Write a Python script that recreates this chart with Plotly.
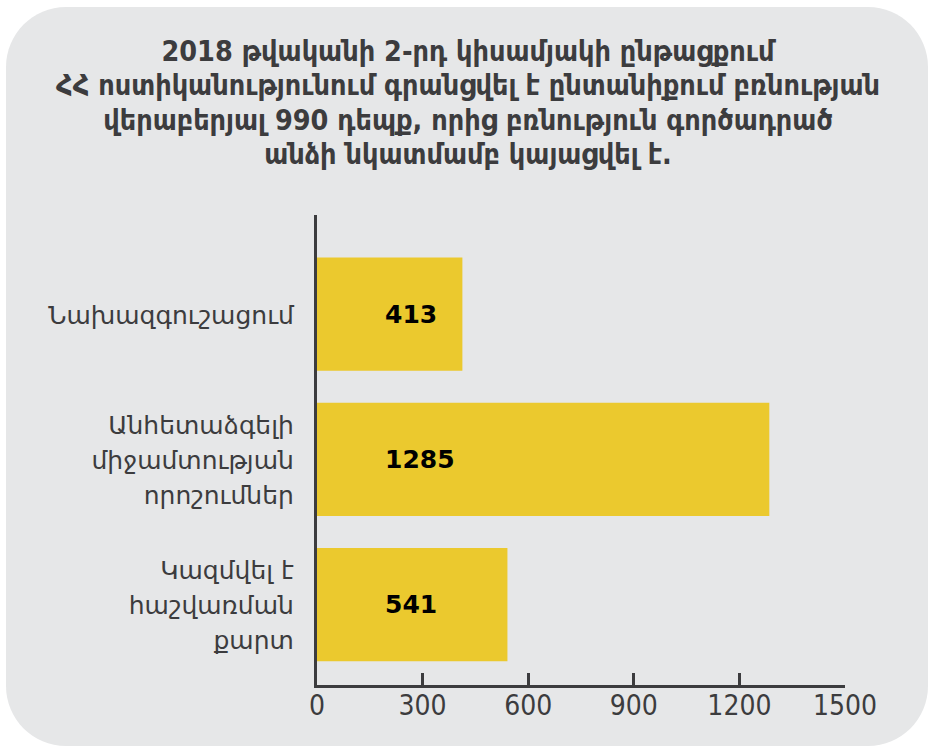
import plotly.graph_objects as go

categories = [
    "Նախազգուշացում",
    "Անհետաձգելի<br>միջամտության<br>որոշումներ",
    "Կազմվել է<br>հաշվառման<br>քարտ",
]
values = [413, 1285, 541]
tick_vals = [0, 300, 600, 900, 1200, 1500]
title_lines = [
    "2018 թվականի 2-րդ կիսամյակի ընթացքում",
    "ՀՀ ոստիկանությունում գրանցվել է ընտանիքում բռնության",
    "վերաբերյալ 990 դեպք, որից բռնություն գործադրած",
    "անձի նկատմամբ կայացվել է.",
]

W, H = 929, 746
L, R, T, B = 317, 84, 215, 61
pw, ph = W - L - R, H - T - B

def px(x):
    return (x - L) / pw

def py(y):
    return (H - B - y) / ph

BG = "#e6e7e8"
BAR = "#ebc92e"
DARK = "#3c3c3e"

def sized(text, size):
    return "<br>".join(f"<span style='font-size:{size}px'>{t}</span>" for t in text.split("<br>"))

fig = go.Figure()
fig.add_trace(go.Bar(
    y=categories, x=values, orientation="h",
    marker=dict(color=BAR, line=dict(width=0)),
    width=0.78, hoverinfo="skip",
))
# invisible trace so the tick-label overlay axis is drawn
fig.add_trace(go.Scatter(x=[0], y=[categories[0]], xaxis="x2", mode="none",
                         hoverinfo="skip", showlegend=False))

for c, v in zip(categories, values):
    fig.add_annotation(
        x=0, y=c, xref="x", yref="y", text=f"<b>{v}</b>", showarrow=False,
        xanchor="left", xshift=66,
        font=dict(family="DejaVu Sans", size=25, color="#000000"),
    )

# rounded background card
x0, y0, x1, y1, r = 6, 7, 928, 746, 60
k = 0.5523 * r
path = (
    f"M {px(x0+r)},{py(y0)} L {px(x1-r)},{py(y0)} "
    f"C {px(x1-r+k)},{py(y0)} {px(x1)},{py(y0+r-k)} {px(x1)},{py(y0+r)} "
    f"L {px(x1)},{py(y1-r)} "
    f"C {px(x1)},{py(y1-r+k)} {px(x1-r+k)},{py(y1)} {px(x1-r)},{py(y1)} "
    f"L {px(x0+r)},{py(y1)} "
    f"C {px(x0+r-k)},{py(y1)} {px(x0)},{py(y1-r+k)} {px(x0)},{py(y1-r)} "
    f"L {px(x0)},{py(y0+r)} "
    f"C {px(x0)},{py(y0+r-k)} {px(x0+r-k)},{py(y0)} {px(x0+r)},{py(y0)} Z"
)
fig.add_shape(type="path", path=path, xref="paper", yref="paper",
              fillcolor=BG, line=dict(width=0), layer="below")

fig.update_layout(
    width=W, height=H,
    margin=dict(l=L, r=R, t=T, b=B, pad=0),
    paper_bgcolor="white", plot_bgcolor="rgba(0,0,0,0)",
    showlegend=False,
    title=dict(
        text=sized("<br>".join(title_lines), 28.5),
        x=px(468), xref="paper", xanchor="center",
        y=1 - 61 / H, yref="container", yanchor="top",
        font=dict(family="DejaVu Sans Condensed", size=26.5, color=DARK, weight="bold"),
    ),
    xaxis=dict(
        range=[0, 1500], tickvals=tick_vals, ticks="inside", ticklen=12,
        tickwidth=2.5, tickcolor=DARK, showline=True,
        linecolor=DARK, linewidth=2.5, showticklabels=False,
        showgrid=False, zeroline=False, fixedrange=True,
    ),
    xaxis2=dict(
        overlaying="x", matches="x", anchor="y", side="bottom",
        range=[0, 1500], tickvals=tick_vals, ticks="", showline=False,
        ticklabelstandoff=1,
        tickfont=dict(family="DejaVu Sans Condensed", size=28, color=DARK),
        showgrid=False, zeroline=False, fixedrange=True,
    ),
    yaxis=dict(
        type="category", range=[2.554, -0.682], showline=True, linecolor=DARK,
        linewidth=2.5, showgrid=False, zeroline=False,
        ticks="outside", ticklen=15, tickcolor="rgba(0,0,0,0)",
        tickvals=categories, ticktext=[sized(c, 25) for c in categories],
        tickfont=dict(family="DejaVu Sans", size=27, color=DARK),
        fixedrange=True,
    ),
)

fig.write_html(
    "out.html",
    config={"displayModeBar": False},
    post_script="document.body.style.margin='0';document.documentElement.style.overflow='hidden';",
)
